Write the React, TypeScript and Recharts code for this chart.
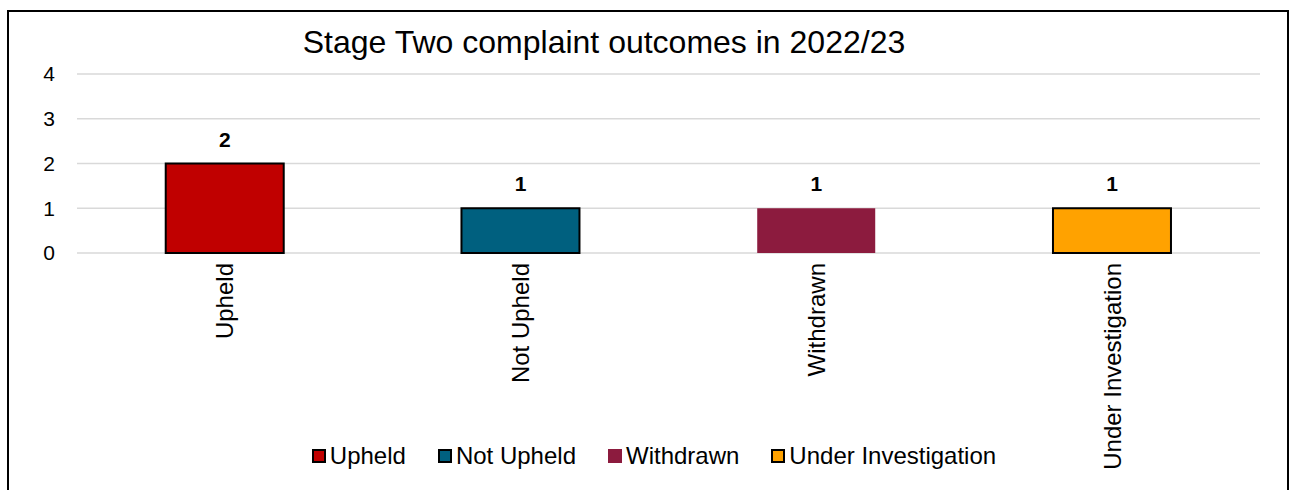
import { Bar, BarChart, CartesianGrid, Cell, LabelList, Legend, XAxis, YAxis } from "recharts";

const categories = ["Upheld", "Not Upheld", "Withdrawn", "Under Investigation"];
const counts = [2, 1, 1, 1];
const colors = ["#C00000", "#00607F", "#8C1B3E", "#FFA200"];
const outlined = [true, true, false, true];
const yTicks = [0, 1, 2, 3, 4];

const data = categories.map((name, i) => ({ name, value: counts[i] }));

const font = "'Liberation Sans', Arial, sans-serif";

function CategoryTick(props: any) {
  const { x, y, payload } = props;
  return (
    <text
      x={x}
      y={y}
      transform={`rotate(-90, ${x}, ${y})`}
      textAnchor="end"
      dominantBaseline="central"
      fontSize={24}
      fontFamily={font}
      fill="#000"
    >
      {payload.value}
    </text>
  );
}

function OutcomeLegend() {
  return (
    <div
      style={{
        display: "flex",
        justifyContent: "center",
        alignItems: "center",
        gap: 32,
        fontFamily: font,
        fontSize: 24,
        color: "#000",
        height: 24,
        marginTop: -6,
      }}
    >
      {categories.map((name, i) => (
        <div key={name} style={{ display: "flex", alignItems: "center", gap: 4 }}>
          <span
            style={{
              width: outlined[i] ? 10 : 14,
              height: outlined[i] ? 10 : 14,
              background: colors[i],
              border: outlined[i] ? "2px solid #000" : "none",
              display: "inline-block",
            }}
          />
          <span>{name}</span>
        </div>
      ))}
    </div>
  );
}

export default function App() {
  return (
    <div
      style={{
        position: "absolute",
        left: 0,
        top: 0,
        width: 1292,
        height: 490,
        overflow: "hidden",
        background: "#fff",
      }}
    >
      <div
        style={{
          position: "absolute",
          left: 7,
          top: 10,
          width: 1282,
          height: 520,
          border: "2px solid #000",
          boxSizing: "border-box",
        }}
      />
      <div
        style={{
          position: "absolute",
          left: 0,
          top: 26,
          width: 1208,
          textAlign: "center",
          fontFamily: font,
          fontSize: 32,
          lineHeight: "32px",
          color: "#000",
        }}
      >
        Stage Two complaint outcomes in 2022/23
      </div>
      <div style={{ position: "absolute", left: 0, top: 0 }}>
        <BarChart
          width={1292}
          height={490}
          data={data}
          margin={{ top: 74, right: 32, left: 17, bottom: 0 }}
          barCategoryGap="30%"
        >
          <CartesianGrid vertical={false} stroke="#D9D9D9" strokeWidth={1.5} />
          <XAxis
            dataKey="name"
            axisLine={false}
            tickLine={false}
            height={197}
            interval={0}
            tick={<CategoryTick />}
            tickMargin={4}
          />
          <YAxis
            domain={[0, 4]}
            ticks={yTicks}
            width={60}
            axisLine={false}
            tickLine={false}
            tickMargin={16}
            tick={{ fontSize: 21, fontFamily: font, fill: "#000" }}
          />
          <Legend verticalAlign="bottom" height={40} content={() => <OutcomeLegend />} wrapperStyle={{ left: 0, width: 1308 }} />
          <Bar dataKey="value" isAnimationActive={false}>
            {data.map((entry, i) => (
              <Cell
                key={entry.name}
                fill={colors[i]}
                stroke={outlined[i] ? "#000" : "none"}
                strokeWidth={outlined[i] ? 2 : 0}
              />
            ))}
            <LabelList
              dataKey="value"
              position="top"
              offset={17}
              fontSize={21}
              fontWeight="bold"
              fontFamily={font}
              fill="#000"
            />
          </Bar>
        </BarChart>
      </div>
    </div>
  );
}
